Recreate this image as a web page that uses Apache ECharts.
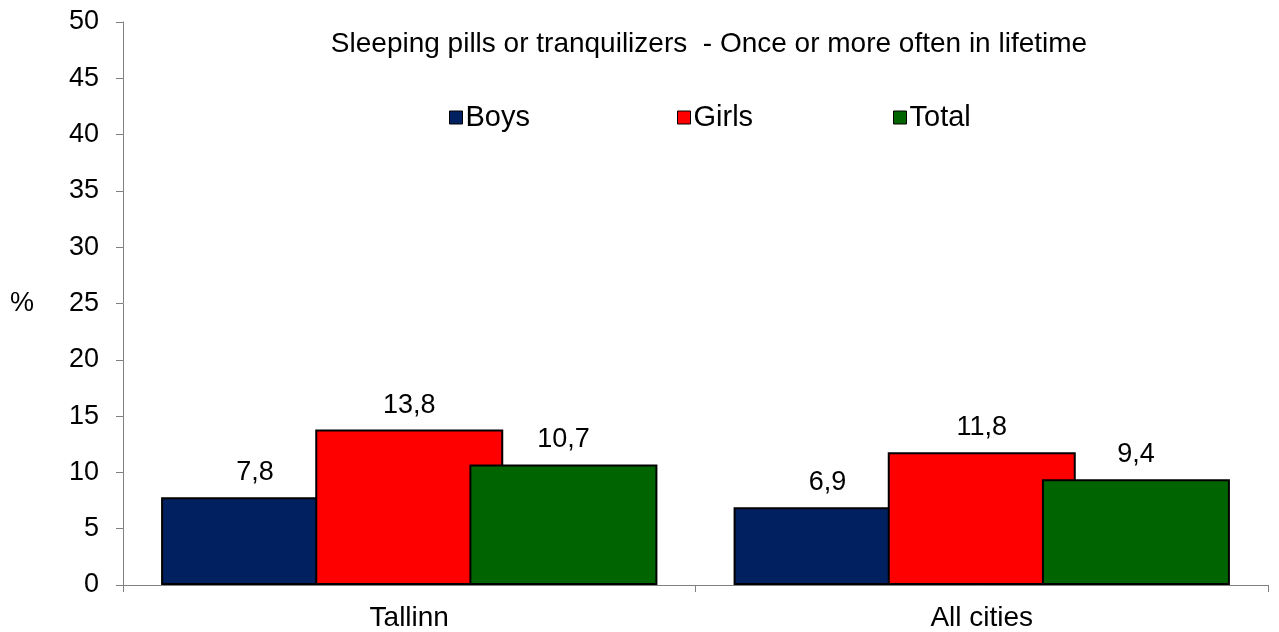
<!DOCTYPE html>
<html>
<head>
<meta charset="utf-8">
<script src="https://cdn.jsdelivr.net/npm/echarts@6/dist/echarts.min.js"></script>
<style>
  html, body { margin: 0; padding: 0; background: #fff; }
  #chart { width: 1279px; height: 632px; }
</style>
</head>
<body>
<div id="chart"></div>
<script>
const categories = ['Tallinn', 'All cities'];
const boys = [7.8, 6.9];
const girls = [13.8, 11.8];
const total = [10.7, 9.4];
const yTicks = { min: 0, max: 50, interval: 5 };

const font = 'Liberation Sans, Arial, sans-serif';
const label = {
  show: true,
  position: 'top',
  distance: 11,
  color: '#000',
  fontSize: 27,
  fontFamily: font,
  formatter: p => String(p.value).replace('.', ',')
};

function bar(name, data, color) {
  return {
    name: name,
    type: 'bar',
    data: data,
    barWidth: 188,
    barGap: '-18%',
    itemStyle: { color: color, borderColor: '#000', borderWidth: 2 },
    label: label
  };
}

// one legend per item so each sits where the original has it
function legendAt(name, left) {
  return {
    data: [name],
    left: left,
    top: 103,
    padding: 0,
    itemWidth: 13,
    itemHeight: 13,
    icon: 'rect',
    textStyle: { fontSize: 29, fontFamily: font, color: '#000', padding: [0, 0, 0, -2] },
    itemStyle: { borderColor: '#000', borderWidth: 1 }
  };
}

let chart = echarts.init(document.getElementById('chart'));
chart.setOption({
  animation: false,
  title: {
    text: 'Sleeping pills or tranquilizers  - Once or more often in lifetime',
    left: 704,
    top: 25,
    textAlign: 'center',
    textStyle: { fontSize: 28, fontWeight: 'normal', fontFamily: font, color: '#000' }
  },
  legend: [legendAt('Boys', 449), legendAt('Girls', 677), legendAt('Total', 893)],
  grid: { left: 123, right: 11, top: 22, bottom: 46 },
  xAxis: {
    type: 'category',
    data: categories,
    axisLine: { lineStyle: { color: '#808080', width: 1 } },
    axisTick: { show: true, length: 7, lineStyle: { color: '#808080' } },
    axisLabel: { fontSize: 28, fontFamily: font, color: '#000', margin: 19 }
  },
  yAxis: {
    type: 'value',
    min: yTicks.min,
    max: yTicks.max,
    interval: yTicks.interval,
    name: '%',
    nameLocation: 'middle',
    nameRotate: 0,
    nameGap: 89,
    nameTextStyle: { fontSize: 27, fontFamily: font, color: '#000' },
    axisLine: { show: true, lineStyle: { color: '#808080', width: 1 } },
    axisTick: { show: true, length: 7, lineStyle: { color: '#808080' } },
    axisLabel: { fontSize: 27, fontFamily: font, color: '#000', margin: 24 },
    splitLine: { show: false }
  },
  series: [
    bar('Boys', boys, '#002060'),
    bar('Girls', girls, '#ff0000'),
    bar('Total', total, '#006400')
  ]
});
</script>
</body>
</html>
